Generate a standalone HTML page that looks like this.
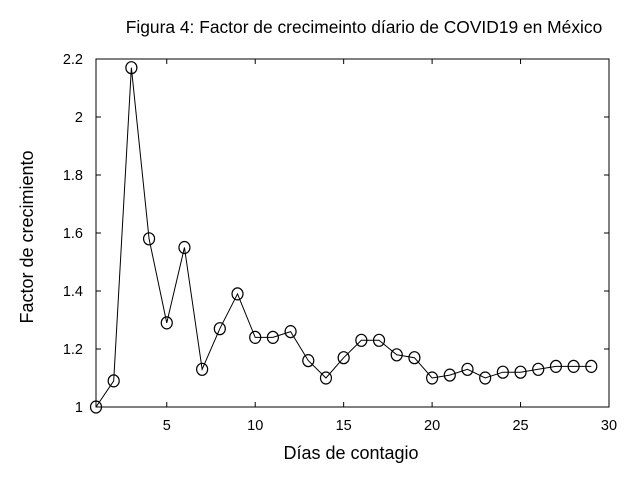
<!DOCTYPE html>
<html><head><meta charset="utf-8"><style>html,body{margin:0;padding:0;background:#fff}svg{display:block}</style></head>
<body>
<svg width="640" height="480" xmlns="http://www.w3.org/2000/svg" font-family="Liberation Sans, Arial, sans-serif">
<rect width="640" height="480" fill="#fff"/>
<text x="364" y="33" font-size="17.4" text-anchor="middle">Figura 4: Factor de crecimeinto díario de COVID19 en México</text>
<rect x="96" y="59" width="513" height="348" fill="none" stroke="#000" stroke-width="1"/>
<g id="ticks" stroke="#000" stroke-width="1"></g>
<g id="lbl" font-size="14.5" fill="#000"></g>
<polyline id="ln" fill="none" stroke="#000" stroke-width="1"/>
<g id="mk" fill="none" stroke="#000" stroke-width="1.2"></g>
<text x="351" y="459" font-size="18" text-anchor="middle">Días de contagio</text>
<text transform="translate(33,237) rotate(-90)" font-size="18" text-anchor="middle">Factor de crecimiento</text>
<script>
var L=96,R=609,T=59,B=407,NS="http://www.w3.org/2000/svg";
function X(v){return L+(v-1)*(R-L)/29}function Y(v){return B-(v-1)*(B-T)/1.2}
function el(t,a,p){var e=document.createElementNS(NS,t);for(var k in a)e.setAttribute(k,a[k]);document.getElementById(p).appendChild(e);return e}
[5,10,15,20,25,30].forEach(function(v){var x=X(v);el("line",{x1:x,y1:B,x2:x,y2:B-5},"ticks");el("line",{x1:x,y1:T,x2:x,y2:T+5},"ticks");el("text",{x:x,y:B+23,"text-anchor":"middle"},"lbl").textContent=v});
[1,1.2,1.4,1.6,1.8,2,2.2].forEach(function(v){var y=Y(v);el("line",{x1:L,y1:y,x2:L+5,y2:y},"ticks");el("line",{x1:R,y1:y,x2:R-5,y2:y},"ticks");el("text",{x:L-13,y:y+5,"text-anchor":"end"},"lbl").textContent=(v==1||v==2)?v:v.toFixed(1)});
var d=[1,1.09,2.17,1.58,1.29,1.55,1.13,1.27,1.39,1.24,1.24,1.26,1.16,1.10,1.17,1.23,1.23,1.18,1.17,1.10,1.11,1.13,1.10,1.12,1.12,1.13,1.14,1.14,1.14];
var p=[];d.forEach(function(v,i){var x=X(i+1),y=Y(v);p.push(x+","+y);el("ellipse",{cx:x,cy:y,rx:5.5,ry:6},"mk")});
document.getElementById("ln").setAttribute("points",p.join(" "));
</script>
</svg>
</body></html>
